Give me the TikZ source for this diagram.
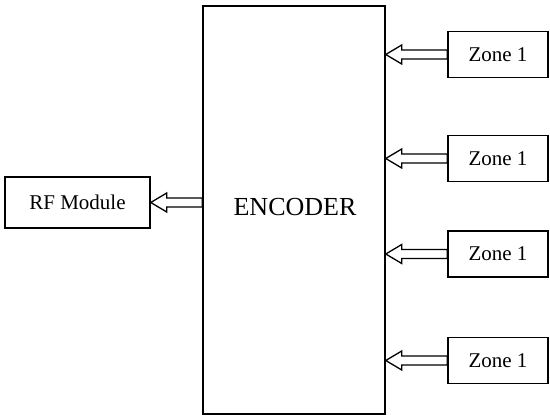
\documentclass[tikz,border=0pt]{standalone}
\usepackage{fontspec}
\setmainfont{Liberation Serif}
\usetikzlibrary{calc}

\tikzset{
  box/.style={draw, line width=1.5pt, inner sep=0pt, fill=white},
  bigbox/.style={box, minimum width=182pt, minimum height=408pt},
  smallbox/.style={box, minimum width=100pt, minimum height=46pt,
    font=\fontsize{21}{25}\selectfont},
  rfbox/.style={box, minimum width=145pt, minimum height=51pt,
    font=\fontsize{21}{25}\selectfont},
  bigtext/.style={font=\fontsize{26}{31}\selectfont},
  blockarrow/.style={draw, line width=1.3pt, fill=white, line join=miter}
}

% hollow block arrow pointing left: #1 = tail point, #2 = tip point
\newcommand{\leftblockarrow}[2]{%
  \draw[blockarrow] (#1) -- ++(0,4.5) -- ($(#2)+(16,4.5)$) -- ++(0,5)
    -- (#2) -- ++(16,-9.5) -- ++(0,5) -- ($(#1)+(0,-4.5)$) -- cycle;}

\begin{document}
\begin{tikzpicture}[x=1pt,y=1pt]
  \useasboundingbox (0,0) rectangle (550,418);

  % encoder block
  \node[bigbox] (enc) at (294,208) {};
  \node[bigtext] (enctext) at (295,211) {ENCODER};

  % zone inputs
  \node[smallbox] (z1) at (498,363.5) {Zone 1};
  \node[smallbox] (z2) at (498,259.5) {Zone 1};
  \node[smallbox] (z3) at (498,164) {Zone 1};
  \node[smallbox] (z4) at (498,57.5) {Zone 1};

  % RF output
  \node[rfbox] (rf) at (77.5,215.5) {RF Module};

  % arrow tips on the encoder edge
  \coordinate (t1) at (enc.east |- z1.west);
  \coordinate (t2) at (enc.east |- z2.west);
  \coordinate (t3) at (enc.east |- z3.west);
  \coordinate (t4) at (enc.east |- z4.west);
  \coordinate (rftail) at (enc.west |- rf.east);

  \leftblockarrow{z1.west}{t1}
  \leftblockarrow{z2.west}{t2}
  \leftblockarrow{z3.west}{t3}
  \leftblockarrow{z4.west}{t4}
  \leftblockarrow{rftail}{rf.east}
\end{tikzpicture}
\end{document}
